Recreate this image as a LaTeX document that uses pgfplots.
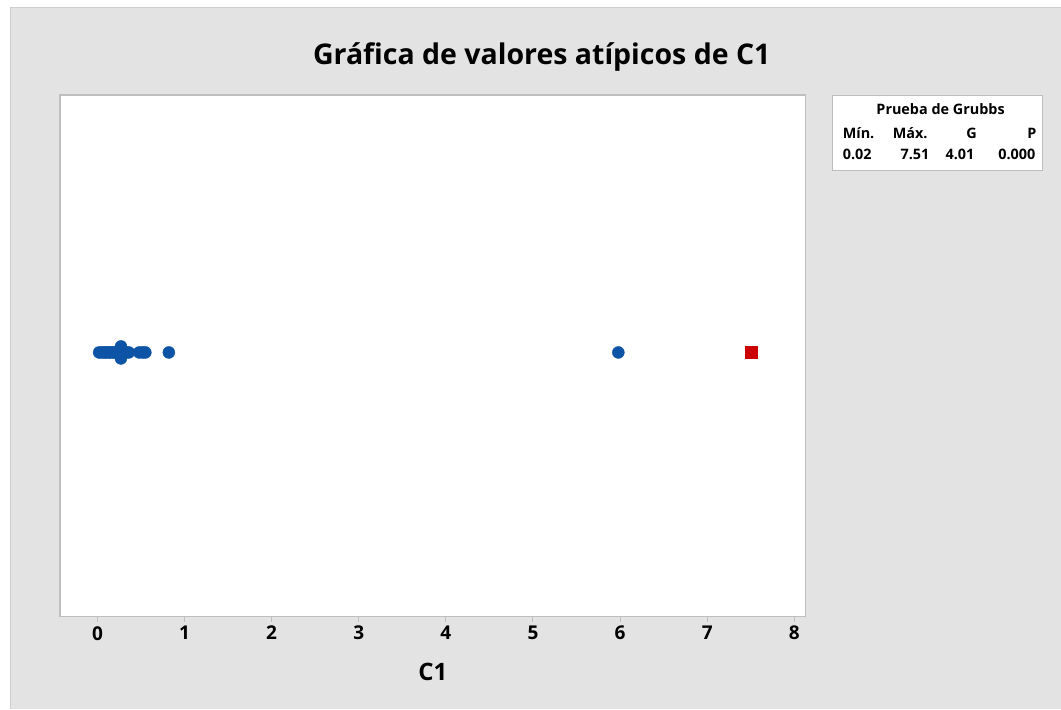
\documentclass[border=0pt]{standalone}
\usepackage{pgfplots}
\pgfplotsset{compat=1.18}
\usepackage{fontspec}
\setmainfont{Open Sans}
\definecolor{bg}{RGB}{227,227,227}
\definecolor{framegray}{RGB}{190,190,190}
\definecolor{edgegray}{RGB}{205,205,205}
\definecolor{mblue}{RGB}{14,84,166}
\definecolor{mred}{RGB}{204,0,0}
\begin{document}
\begin{tikzpicture}[x=1pt,y=1pt]
\fill[white] (0,0) rectangle (1061,709);
\fill[bg] (11,0) rectangle (1061,701);
\draw[edgegray, line width=1pt] (11,0) -- (11,701) -- (1061,701);
\begin{axis}[
  at={(60pt,92pt)}, anchor=south west,
  width=746pt, height=522pt, scale only axis,
  xmin=-0.43, xmax=8.13, ymin=-1, ymax=1,
  ytick=\empty, xtick={0,...,8},
  axis background/.style={fill=white},
  axis line style={draw=framegray, line width=1.3pt},
  tick align=outside, xtick pos=bottom,
  major tick length=5pt,
  tick style={draw=framegray, line width=1pt},
  xticklabel style={font=\fontsize{19}{19}\selectfont\bfseries, yshift=-1pt},
  /pgf/number format/assume math mode=true,
  clip=false,
]
\addplot[only marks, mark=*, mark size=6pt, mark options={fill=mblue, draw=mblue}] coordinates {
(0.02,0.013) (0.05,0.013) (0.08,0.013) (0.10,0.013) (0.13,0.013) (0.15,0.013)
(0.18,0.013) (0.20,0.013) (0.22,0.013) (0.25,0.013) (0.27,0.013) (0.27,0.036)
(0.27,-0.010) (0.30,0.013) (0.33,0.013) (0.36,0.013) (0.48,0.013) (0.52,0.013)
(0.55,0.013) (0.82,0.013) (5.98,0.013)
};
\addplot[only marks, mark=square*, mark size=6pt, mark options={fill=mred, draw=mred}] coordinates {
(7.51,0.013)
};
\end{axis}
\node[font=\fontsize{28.5}{28.5}\selectfont\bfseries] at (542,652) {Gráfica de valores atípicos de C1};
\node[font=\fontsize{24}{24}\selectfont\bfseries] at (433,37) {C1};
\draw[framegray, fill=white, line width=1pt] (833,538) rectangle (1043,613);
\begin{scope}[every node/.style={font=\fontsize{14.4}{14.4}\selectfont\bfseries, inner sep=0pt}]
\node[anchor=base] at (941,594) {Prueba de Grubbs};
\node[anchor=base west] at (843,570) {Mín.};
\node[anchor=base west] at (893,570) {Máx.};
\node[anchor=base] at (972,570) {G};
\node[anchor=base east] at (1037,570) {P};
\node[anchor=base west] at (843,549) {0.02};
\node[anchor=base east] at (930,549) {7.51};
\node[anchor=base east] at (975,549) {4.01};
\node[anchor=base east] at (1036,549) {0.000};
\end{scope}
\end{tikzpicture}
\end{document}
